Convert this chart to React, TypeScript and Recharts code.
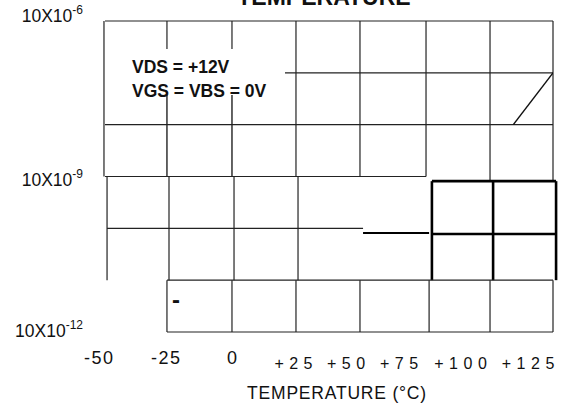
import React from "react";
import { ComposedChart, Line, XAxis, YAxis, ReferenceLine, Label } from "recharts";

// axis ticks
const tempTicks = [-50, -25, 0, 25, 50, 75, 100, 125];
const tempTickLabels = ["-50", "-25", "0", "+25", "+50", "+75", "+100", "+125"];
const currentTicks = [1e-5, 1e-8, 1e-11];
const currentTickExponents = ["-6", "-9", "-12"];

// IDSS leakage curve (only the visible part of the trace)
const leakTemps = [109.5, 125];
const leakCurrents = [1e-7, 1e-6];

const leakData = leakTemps.map((t, i) => ({ temp: t, current: leakCurrents[i] }));

const FONT = "'Liberation Sans', Arial, Helvetica, sans-serif";

// the scanned grid is broken up into blocks; [tempA, log10 A, tempB, log10 B, width]
const frame: number[][] = [
  // upper block
  [-50, -5, 125, -5, 1.2],
  [20.3, -6, 125, -6, 1.2],
  [-50, -7, 125, -7, 1.2],
  [-50, -8, 75.4, -8, 1.2],
  [-50.4, -5, -50.4, -8, 1.2],
  [-25.8, -5, -25.8, -5.54, 1.2],
  [-25.8, -6.43, -25.8, -8, 1.4],
  [-0.4, -5, -0.4, -5.54, 1.2],
  [-0.4, -6.43, -0.4, -8, 1.4],
  [24.6, -5, 24.6, -8, 1.2],
  [49.6, -5, 49.6, -8, 1.2],
  [75.4, -5, 75.4, -8, 1.2],
  [100.4, -5, 100.4, -8.08, 1.2],
  [125, -5, 125, -8.08, 1.2],
  // middle block
  [-49.2, -8, -49.2, -10, 1.2],
  [-25, -8, -25, -10, 1.2],
  [0.4, -8, 0.4, -10, 1.2],
  [25.4, -8, 25.4, -10, 1.2],
  [-49.2, -9, 50.8, -9, 1.2],
  [50.8, -9.09, 76.6, -9.09, 2.2],
  // heavy box
  [77.7, -8.09, 126.2, -8.09, 2.6],
  [77.7, -9.11, 126.2, -9.11, 2.6],
  [77.7, -8.09, 77.7, -10, 2.6],
  [101.6, -8.09, 101.6, -10, 2.6],
  [126.2, -8.09, 126.2, -10, 2.6],
  // lower block
  [-25.8, -10, 125, -10, 1.2],
  [-25.8, -11, 125, -11, 1.2],
  [-25.8, -10, -25.8, -11, 1.2],
  [-0.4, -10, -0.4, -11, 1.2],
  [24.6, -10, 24.6, -11, 1.2],
  [49.6, -10, 49.6, -11, 1.2],
  [76.6, -10, 76.6, -11, 1.2],
  [100.4, -10, 100.4, -11, 1.2],
  [125, -10, 125, -11, 1.2],
];

// label nudges, the scan is not aligned to its own grid
const xTickNudge = [-5.8, -2.8, -0.3, -0.8, -12.2, -23.2, -25.7, -22.2];
const yTickNudge = [1, 9.5, 5];

function TempTick(props: any) {
  const { x, y, payload } = props;
  const i = tempTicks.indexOf(payload.value);
  const positive = payload.value > 0;
  return (
    <text
      x={x + xTickNudge[i]}
      y={y + (positive ? 37 : 32)}
      textAnchor="middle"
      fontFamily={FONT}
      fontSize={positive ? 16 : 18}
      letterSpacing={positive ? 5.5 : 1.5}
      fill="#111"
    >
      {tempTickLabels[i]}
    </text>
  );
}

function CurrentTick(props: any) {
  const { y, payload } = props;
  const i = currentTicks.findIndex((v) => Math.abs(Math.log10(v) - Math.log10(payload.value)) < 1e-6);
  return (
    <text x={83} y={y + yTickNudge[i]} textAnchor="end" fontFamily={FONT} fontSize={17.5} fill="#111">
      10X10
      <tspan dy={-8} fontSize={12}>
        {currentTickExponents[i]}
      </tspan>
    </text>
  );
}

export default function App() {
  return (
    <div style={{ position: "absolute", left: 0, top: 0, width: 571, height: 406, background: "#fff" }}>
      <ComposedChart width={571} height={406} margin={{ top: 21, right: 18, bottom: 0, left: 0 }}>
        <XAxis
          type="number"
          dataKey="temp"
          domain={[-50, 125]}
          ticks={tempTicks}
          interval={0}
          allowDataOverflow
          axisLine={false}
          tickLine={false}
          tickSize={0}
          tickMargin={0}
          height={74}
          tick={(p: any) => <TempTick {...p} />}
        >
          <Label
            content={(p: any) => (
              <text
                x={p.viewBox.x + p.viewBox.width / 2 + 8}
                y={399}
                textAnchor="middle"
                fontFamily={FONT}
                fontSize={17.5}
                letterSpacing={0.8}
                fill="#111"
              >
                TEMPERATURE (°C)
              </text>
            )}
          />
        </XAxis>
        <YAxis
          type="number"
          scale="log"
          domain={[1e-11, 1e-5]}
          ticks={currentTicks}
          interval={0}
          allowDataOverflow
          axisLine={false}
          tickLine={false}
          tickSize={0}
          tickMargin={0}
          width={105}
          tick={(p: any) => <CurrentTick {...p} />}
        />
        {frame.map((s, k) => (
          <ReferenceLine
            key={k}
            segment={[
              { x: s[0], y: 10 ** s[1] },
              { x: s[2], y: 10 ** s[3] },
            ]}
            stroke={s[4] > 2 ? "#000" : "#222"}
            strokeWidth={s[4]}
            ifOverflow="visible"
          />
        ))}
        <Line
          data={leakData}
          dataKey="current"
          type="linear"
          stroke="#111"
          strokeWidth={1.5}
          dot={false}
          isAnimationActive={false}
        />
      </ComposedChart>
      <svg
        width={571}
        height={406}
        style={{ position: "absolute", left: 0, top: 0, pointerEvents: "none" }}
      >
        <text x={324} y={5} textAnchor="middle" fontFamily={FONT} fontSize={23} fontWeight="bold" fill="#111">
          TEMPERATURE
        </text>
        <text x={132} y={73} fontFamily={FONT} fontSize={17.5} fontWeight="bold" fill="#111">
          VDS = +12V
        </text>
        <text x={132} y={97} fontFamily={FONT} fontSize={17.5} fontWeight="bold" fill="#111">
          VGS = VBS = 0V
        </text>
        <text x={172} y={308} fontFamily={FONT} fontSize={24} fontWeight="bold" fill="#111">
          -
        </text>
      </svg>
    </div>
  );
}
